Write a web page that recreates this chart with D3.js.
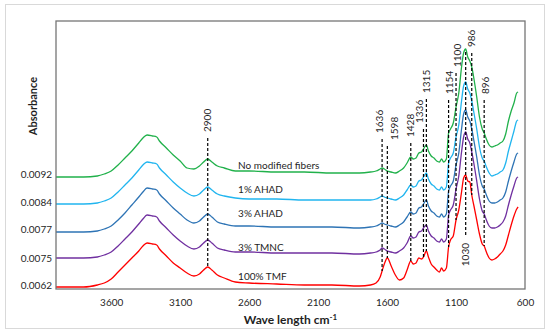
<!DOCTYPE html>
<html>
<head>
<meta charset="utf-8">
<script src="https://cdn.jsdelivr.net/npm/d3@7"></script>
<style>
  body { margin: 0; background: #fff; }
  text { font-family: Lato, "Open Sans", sans-serif; fill: #1f1f1f; }
</style>
</head>
<body>
<div id="chart"></div>
<script>
// wavenumbers (cm-1), high to low
var wavenumbers = [4000, 3800, 3700, 3650, 3600, 3550, 3500, 3450, 3400, 3370, 3340, 3300, 3270, 3250, 3200, 3150, 3100, 3050, 3000, 2960, 2930, 2900, 2870, 2830, 2780, 2700, 2600, 2400, 2200, 2000, 1800, 1720, 1680, 1650, 1636, 1620, 1598, 1570, 1540, 1510, 1480, 1455, 1428, 1410, 1390, 1370, 1350, 1336, 1315, 1300, 1280, 1260, 1240, 1220, 1205, 1190, 1170, 1154, 1140, 1120, 1100, 1080, 1060, 1045, 1030, 1015, 1000, 986, 970, 950, 930, 910, 896, 880, 860, 840, 820, 800, 780, 760, 740, 720, 700, 680, 660, 650];

// stacked (offset) absorbance, arbitrary units
var noModified = [112, 112, 113, 115, 118, 124, 131, 138, 146, 151, 154, 153, 152, 148, 141, 134, 128, 121, 120, 123, 127, 130, 127, 123, 121, 118, 118, 117, 117, 116, 116, 117, 118, 120, 121, 120, 118, 117, 116, 118, 121, 126, 132, 130, 131, 136, 137, 140, 144, 138, 133, 131, 128, 127, 130, 127, 130, 156, 160, 166, 182, 196, 222, 236, 240, 232, 228, 222, 210, 192, 172, 160, 156, 150, 144, 142, 143, 144, 146, 148, 155, 168, 178, 186, 196, 197];
var ahad1 = [85, 85, 86, 88, 91, 97, 104, 111, 119, 124, 127, 126, 125, 121, 114, 107, 101, 96, 93, 95, 99, 102, 99, 95, 93, 91, 90, 90, 89, 89, 89, 89, 90, 92, 93, 92, 91, 90, 89, 91, 94, 99, 104, 102, 103, 108, 109, 112, 116, 110, 105, 103, 100, 99, 102, 99, 102, 126, 131, 136, 152, 164, 188, 203, 207, 200, 196, 188, 176, 160, 142, 131, 128, 122, 116, 113, 114, 115, 117, 119, 126, 138, 148, 158, 168, 169];
var ahad3 = [57, 57, 58, 60, 63, 69, 76, 84, 92, 97, 101, 100, 99, 95, 88, 81, 75, 69, 66, 68, 72, 75, 72, 67, 65, 63, 63, 62, 62, 62, 61, 62, 63, 65, 66, 65, 64, 63, 62, 64, 67, 72, 77, 75, 76, 81, 82, 85, 89, 83, 78, 76, 73, 72, 75, 72, 75, 98, 103, 108, 124, 136, 160, 175, 179, 172, 168, 160, 148, 132, 114, 103, 100, 94, 88, 86, 86, 87, 89, 91, 97, 108, 118, 127, 135, 136];
var tmnc3 = [31, 31, 32, 34, 37, 43, 50, 57, 65, 70, 74, 73, 72, 68, 61, 54, 48, 43, 40, 42, 46, 49, 46, 41, 39, 37, 37, 36, 36, 36, 35, 36, 37, 39, 41, 40, 38, 37, 36, 38, 41, 46, 53, 51, 52, 57, 58, 61, 64, 58, 53, 51, 48, 47, 50, 47, 50, 74, 79, 84, 100, 113, 137, 152, 157, 150, 146, 137, 125, 108, 90, 78, 75, 69, 63, 61, 61, 62, 64, 67, 73, 84, 94, 103, 111, 112];
var tmf100 = [2, 2, 4, 6, 10, 17, 24, 31, 38, 43, 46, 45, 44, 40, 33, 26, 21, 16, 13, 15, 19, 22, 19, 14, 11, 7, 6, 5, 4, 4, 3, 4, 6, 12, 18, 25, 31, 23, 14, 9, 11, 19, 28, 25, 26, 31, 30, 32, 38, 32, 25, 22, 19, 17, 21, 18, 21, 42, 49, 53, 69, 79, 97, 111, 114, 108, 107, 94, 83, 69, 55, 45, 43, 37, 31, 29, 30, 32, 35, 38, 44, 54, 64, 73, 80, 82];

var seriesNames = ["No modified fibers", "1% AHAD", "3% AHAD", "3% TMNC", "100% TMF"];
var seriesValues = [noModified, ahad1, ahad3, tmnc3, tmf100];
var seriesColors = ["#21b14b", "#21b5ef", "#2e74b5", "#7030a0", "#ff0000"];

var xTicks = [3600, 3100, 2600, 2100, 1600, 1100, 600];
var yTickValues = [4, 31, 60, 87, 115];
var yTickLabels = ["0.0062", "0.0075", "0.0077", "0.0084", "0.0092"];

var peaks = [2900, 1636, 1598, 1428, 1336, 1315, 1154, 1100, 1030, 986, 896];

var W = 550, H = 334;
var margin = {top: 21, right: 25, bottom: 45, left: 56};
var width = W - margin.left - margin.right;
var height = H - margin.top - margin.bottom;

var svg = d3.select("#chart").append("svg")
    .attr("width", W)
    .attr("height", H);

// outer figure border
svg.append("rect")
    .attr("x", 5.5).attr("y", 4.5)
    .attr("width", 539).attr("height", 324)
    .attr("fill", "none")
    .attr("stroke", "#d9d9d9");

var g = svg.append("g")
    .attr("transform", "translate(" + margin.left + "," + margin.top + ")");

var x = d3.scaleLinear().domain([4000, 600]).range([0, width]);
var y = d3.scaleLinear().domain([0, 268]).range([height, 0]);

// axes (labels only)
var xAxis = g.append("g")
    .attr("transform", "translate(0," + height + ")")
    .call(d3.axisBottom(x).tickValues(xTicks).tickSize(0).tickPadding(10).tickFormat(d3.format("d")));
xAxis.select(".domain").remove();
xAxis.selectAll("text").style("font-size", "10px").style("font-family", "Lato").attr("fill", "#1f1f1f");

var yAxis = g.append("g")
    .call(d3.axisLeft(y).tickValues(yTickValues).tickSize(0).tickPadding(4)
        .tickFormat((d, i) => yTickLabels[i]));
yAxis.select(".domain").remove();
yAxis.selectAll("text").style("font-size", "10px").style("font-family", "Lato").attr("fill", "#1f1f1f");

// curves
var line = d3.line()
    .x((d, i) => x(wavenumbers[i]))
    .y(d => y(d))
    .curve(d3.curveMonotoneX);

g.append("g").selectAll("path")
    .data(seriesValues)
    .enter()
    .append("path")
    .attr("d", d => line(d))
    .attr("fill", "none")
    .attr("stroke", (d, i) => seriesColors[i])
    .attr("stroke-width", 1.3);

// series labels
var labelGap = [6, 9, 13, 5, 6];
var labelWn = 2680;
var li = wavenumbers.indexOf(2700);
g.append("g").selectAll("text")
    .data(seriesNames)
    .enter()
    .append("text")
    .attr("x", x(labelWn))
    .attr("y", (d, i) => y(seriesValues[i][li]) - labelGap[i])
    .attr("dy", "0.35em")
    .style("font-size", "10px")
    .text(d => d);

// peak markers
var labelLayout = {
    2900: {bottom: 132, dx: 0},
    1636: {bottom: 133, dx: -3},
    1598: {bottom: 140, dx: 7},
    1428: {bottom: 137, dx: 0},
    1336: {bottom: 123, dx: -3.5},
    1315: {bottom: 93, dx: 0},
    1154: {bottom: 94, dx: 0.5},
    1100: {bottom: 67, dx: 1},
    1030: {top: 243, dx: 0},
    986: {bottom: 47, dx: 0},
    896: {bottom: 94, dx: 1}
};

var marks = g.append("g");
peaks.forEach(p => {
    var k = wavenumbers.indexOf(p);
    var lay = labelLayout[p];
    var px = x(p);
    var y1, y2;
    if (lay.top !== undefined) {
        y1 = y(noModified[k]) + 3;
        y2 = lay.top - margin.top - 6;
    } else {
        y1 = lay.bottom - margin.top + 6;
        y2 = y(tmf100[k]);
    }
    marks.append("line")
        .attr("x1", px).attr("x2", px)
        .attr("y1", y1).attr("y2", y2)
        .attr("stroke", "#000")
        .attr("stroke-width", 1.2)
        .attr("stroke-dasharray", "3,2");

    var ly = (lay.top !== undefined) ? lay.top - margin.top : lay.bottom - margin.top;
    marks.append("text")
        .attr("transform", "translate(" + (px + lay.dx) + "," + ly + ") rotate(-90)")
        .attr("text-anchor", lay.top !== undefined ? "end" : "start")
        .attr("dy", "0.35em")
        .style("font-size", "10px")
        .text(p);
});

// plot frame
g.append("rect")
    .attr("width", width)
    .attr("height", height)
    .attr("fill", "none")
    .attr("stroke", "#767676")
    .attr("stroke-width", 1.3);

// axis titles
svg.append("text")
    .attr("x", margin.left + width / 2)
    .attr("y", 324)
    .attr("text-anchor", "middle")
    .style("font-size", "12px")
    .style("font-weight", "bold")
    .text("Wave length cm")
  .append("tspan")
    .attr("dy", "-0.45em")
    .style("font-size", "8px")
    .text("-1");

svg.append("text")
    .attr("transform", "translate(37,106) rotate(-90)")
    .attr("text-anchor", "middle")
    .style("font-size", "11px")
    .style("font-weight", "bold")
    .text("Absorbance");
</script>
</body>
</html>
